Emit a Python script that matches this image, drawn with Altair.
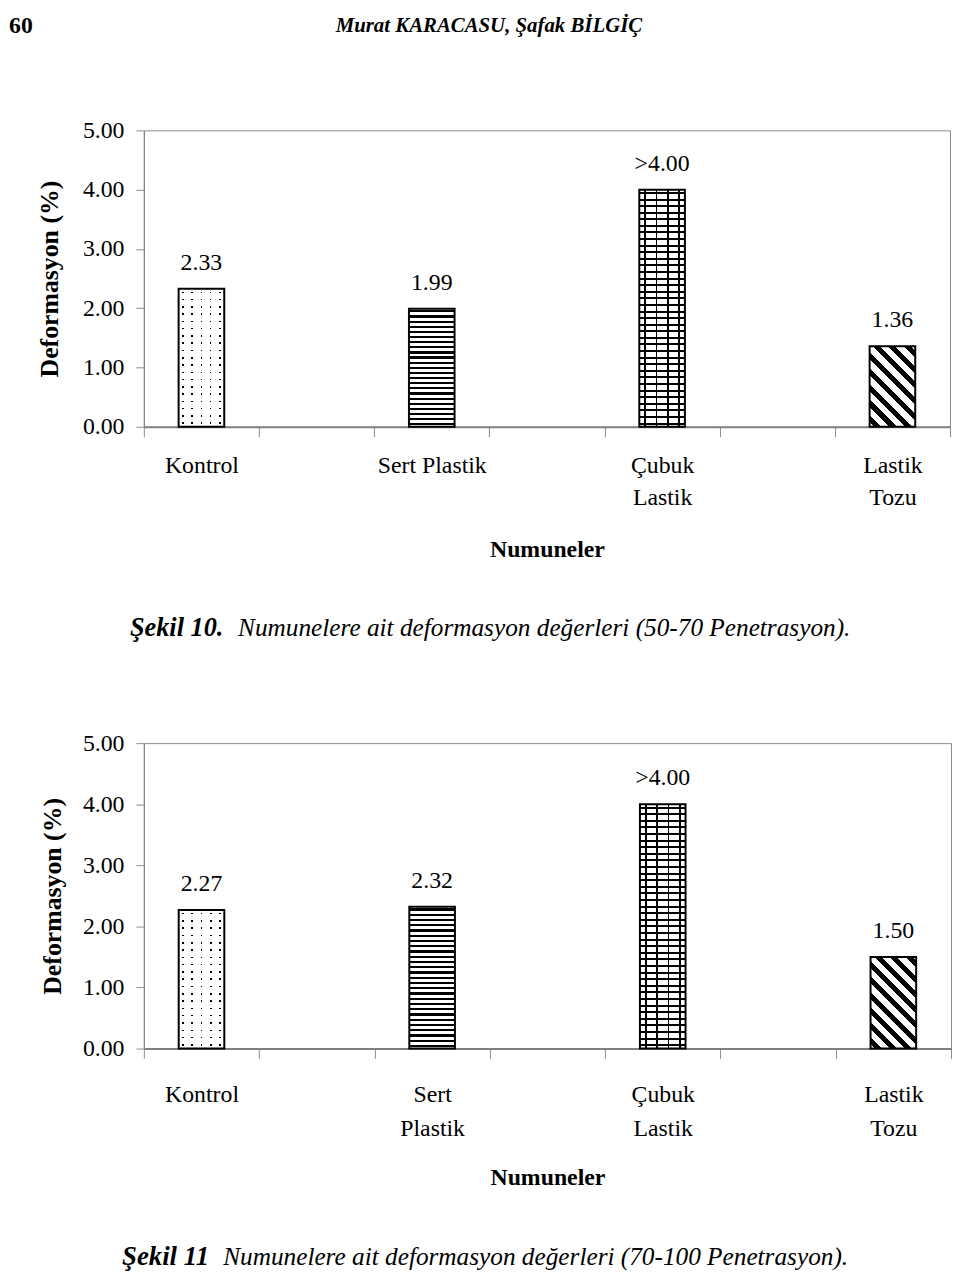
import math
import altair as alt
import pandas as pd

# ---------------- data ----------------
categories1 = ["Kontrol", "Sert Plastik", "Çubuk|Lastik", "Lastik|Tozu"]
values1 = [2.33, 1.99, 4.00, 1.36]
labels1 = ["2.33", "1.99", ">4.00", "1.36"]

categories2 = ["Kontrol", "Sert|Plastik", "Çubuk|Lastik", "Lastik|Tozu"]
values2 = [2.27, 2.32, 4.00, 1.50]
labels2 = ["2.27", "2.32", ">4.00", "1.50"]

patterns = ["dots", "zigzag", "bricks", "diagonal"]
y_ticks = [0, 1, 2, 3, 4, 5]

header_page = ["60"]
header_authors = ["Murat KARACASU, Şafak BİLGİÇ"]
caption1_bold = ["Şekil 10."]
caption1_rest = ["Numunelere ait deformasyon değerleri (50-70 Penetrasyon)."]
caption2_bold = ["Şekil 11"]
caption2_rest = ["Numunelere ait deformasyon değerleri (70-100 Penetrasyon)."]

X_TITLE = "Numuneler"
Y_TITLE = "Deformasyon (%)"
FONT = "Liberation Serif"
BAR_W = 46
W1, H1 = 813, 299
W2, H2 = 814, 308

WHITE = "#ffffff"
BLACK = "#000000"
CLEAR = "rgba(255,255,255,0)"


# ---------------- pattern helpers (styles only) ----------------
def stripe_stops(n, frac, dark, light):
    n = max(int(n), 1)
    stops = []
    for k in range(n):
        a = k / n
        c = (k + 1) / n
        m = (k + 0.5) / n
        h = frac / (2 * n)
        for off, col in [(a, light), (m - h, light), (m - h, dark),
                         (m + h, dark), (m + h, light), (c, light)]:
            stops.append({"offset": round(off, 5), "color": col})
    return stops


def lin(x1, y1, x2, y2, stops):
    return {"gradient": "linear", "x1": x1, "y1": y1, "x2": x2, "y2": y2,
            "stops": stops}


def pattern_fills(kind, hpx):
    """return list of fills (bottom to top) imitating a hatch pattern"""
    w = BAR_W
    if kind == "dots":
        rows = lin(0, 0, 0, 1, stripe_stops(round(hpx / 7.5), 1.6 / 7.5, BLACK, WHITE))
        mask = lin(0, 0, 1, 0, stripe_stops(round(w / 9.0), 1.8 / 9.0, CLEAR, WHITE))
        return [rows, mask]
    if kind == "zigzag":
        rows = lin(0, 0, 0, 1, stripe_stops(round(hpx / 5.2), 0.42, BLACK, WHITE))
        return [rows]
    if kind == "bricks":
        rows = lin(0, 0, 0, 1, stripe_stops(round(hpx / 6.6), 2.0 / 6.6, BLACK, WHITE))
        cols = lin(0, 0, 1, 0, stripe_stops(round(w / 11.5), 1.8 / 11.5, BLACK, CLEAR))
        return [rows, cols]
    # diagonal "\\\\" stripes at 45 degrees
    d = w * w + hpx * hpx
    x1, y1 = -hpx * w / d, hpx * hpx / d
    x2, y2 = w * w / d, -w * hpx / d
    span = (w + hpx) / math.sqrt(2)
    return [lin(x1, y1, x2, y2, stripe_stops(round(span / 10.6), 0.45, BLACK, WHITE))]


def text_layer(strings, x, y, size, weight="normal", style="normal", align="left"):
    return alt.Chart(pd.DataFrame({"t": strings})).mark_text(
        font=FONT, fontSize=size, fontWeight=weight, fontStyle=style,
        align=align, baseline="middle", color=BLACK,
    ).encode(text="t:N", x=alt.value(x), y=alt.value(y))


def panel(cats, vals, labs, width, height, lab_pad, lab_lh, xtitle_y, ytitle_x, extras):
    slots = [cats[0], " ", cats[1], "  ", cats[2], "   ", cats[3]]
    df = pd.DataFrame({"cat": cats, "value": vals, "label": labs})
    ppu = height / 5.0

    xaxis = alt.Axis(
        title=X_TITLE, labelAngle=0, tickBand="extent", tickSize=10,
        labelPadding=lab_pad, labelLineHeight=lab_lh,
        labelExpr="split(datum.label, '|')", labelBaseline="top",
        domainWidth=2, titleFontSize=24, titleY=xtitle_y,
        titleBaseline="middle", titleAnchor="middle",
    )
    yaxis = alt.Axis(
        title=Y_TITLE, values=y_ticks, format=".2f", tickSize=8,
        labelPadding=12, titleAngle=270, titleX=ytitle_x, titleY=height / 2,
        titleBaseline="middle", titleAlign="center",
    )
    base = alt.Chart(df).encode(
        x=alt.X("cat:N", scale=alt.Scale(domain=slots, paddingInner=0, paddingOuter=0),
                axis=xaxis),
        y=alt.Y("value:Q", scale=alt.Scale(domain=[0, 5], nice=False), axis=yaxis),
    )
    layers = []
    for cat, val, kind in zip(cats, vals, patterns):
        for fill in pattern_fills(kind, val * ppu):
            layers.append(
                base.mark_bar(size=BAR_W, fill=fill, strokeWidth=0)
                .transform_filter(alt.FieldEqualPredicate(field="cat", equal=cat))
            )
    layers.append(base.mark_bar(size=BAR_W, fillOpacity=0, stroke=BLACK, strokeWidth=2))
    layers.append(base.mark_text(font=FONT, fontSize=24, dy=-26, baseline="middle",
                                 color=BLACK).encode(text="label:N"))
    layers.extend(extras)
    return alt.layer(*layers).properties(width=width, height=height)


extras1 = [
    text_layer(header_page, -136, -105, 24, weight="bold"),
    text_layer(header_authors, 348, -105, 21, weight="bold", style="italic", align="center"),
    text_layer(caption1_bold, -14, 502, 26.5, weight="bold", style="italic"),
    text_layer(caption1_rest, 95, 502, 25.5, style="italic"),
]
extras2 = [
    text_layer(caption2_bold, -22, 518, 27, weight="bold", style="italic"),
    text_layer(caption2_rest, 80, 518, 25.5, style="italic"),
]

p1 = panel(categories1, values1, labels1, W1, H1, 17, 32, 124, -95, extras1)
p2 = panel(categories2, values2, labels2, W2, H2, 24, 35, 130, -92, extras2)

chart = alt.vconcat(p1, p2, spacing=89).properties(
    padding=0, background="white"
).configure_view(
    stroke="#8c8c8c", strokeWidth=1
).configure_axis(
    labelFont=FONT, labelFontSize=24, labelColor=BLACK,
    titleFont=FONT, titleFontSize=26, titleFontWeight="bold", titleColor=BLACK,
    domainColor="#808080", tickColor="#8c8c8c", grid=False,
)

chart.save("out.html", embed_options={"renderer": "svg", "actions": False})
